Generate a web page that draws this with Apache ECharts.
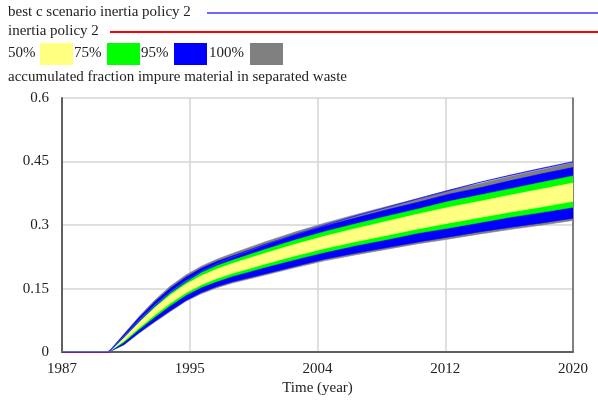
<!DOCTYPE html>
<html>
<head>
    <meta charset="utf-8">
    <title>accumulated fraction impure material in separated waste</title>
    <script src="https://cdn.jsdelivr.net/npm/echarts@6/dist/echarts.min.js"></script>
    <style>
        body { margin: 0; background: #fff; }
        #main { width: 598px; height: 401px; }
    </style>
</head>
<body>
    <div id="main"></div>
    <script type="text/javascript">
        // time axis (year)
        var years = [1987, 1988, 1989, 1990, 1991, 1992, 1993, 1994, 1995, 1996, 1997, 1998,
            2000, 2002, 2004, 2006, 2008, 2010, 2012, 2014, 2016, 2018, 2020];

        // sensitivity envelope
        var p100Hi = [0, 0, 0, 0, 0.043, 0.085, 0.123, 0.156, 0.182, 0.203, 0.219, 0.233,
            0.259, 0.283, 0.305, 0.325, 0.344, 0.363, 0.382, 0.398, 0.415, 0.431, 0.447];
        var p95Hi = [0, 0, 0, 0, 0.041, 0.082, 0.119, 0.151, 0.177, 0.198, 0.214, 0.227,
            0.253, 0.276, 0.298, 0.317, 0.336, 0.354, 0.373, 0.388, 0.405, 0.421, 0.436];
        var p75Hi = [0, 0, 0, 0, 0.037, 0.076, 0.111, 0.142, 0.168, 0.188, 0.204, 0.217,
            0.241, 0.264, 0.285, 0.303, 0.321, 0.338, 0.356, 0.371, 0.386, 0.401, 0.416];
        var p50Hi = [0, 0, 0, 0, 0.034, 0.071, 0.105, 0.135, 0.160, 0.180, 0.196, 0.209,
            0.232, 0.254, 0.274, 0.292, 0.309, 0.326, 0.342, 0.356, 0.371, 0.385, 0.399];
        var p50Lo = [0, 0, 0, 0, 0.026, 0.058, 0.088, 0.116, 0.140, 0.159, 0.174, 0.186,
            0.207, 0.227, 0.245, 0.261, 0.276, 0.291, 0.305, 0.318, 0.331, 0.343, 0.356];
        var p75Lo = [0, 0, 0, 0, 0.023, 0.054, 0.083, 0.110, 0.134, 0.153, 0.167, 0.179,
            0.199, 0.218, 0.236, 0.252, 0.266, 0.281, 0.293, 0.306, 0.319, 0.330, 0.342];
        var p95Lo = [0, 0, 0, 0, 0.018, 0.047, 0.073, 0.098, 0.122, 0.141, 0.155, 0.166,
            0.184, 0.202, 0.220, 0.234, 0.247, 0.260, 0.272, 0.284, 0.295, 0.305, 0.316];
        var p100Lo = [0, 0, 0, 0, 0.017, 0.045, 0.071, 0.096, 0.120, 0.138, 0.152, 0.163,
            0.181, 0.199, 0.216, 0.230, 0.243, 0.256, 0.267, 0.279, 0.290, 0.300, 0.311];

        // single runs
        var bestC = [0, 0, 0, 0, 0.036, 0.074, 0.109, 0.141, 0.166, 0.190, 0.208, 0.224,
            0.252, 0.277, 0.300, 0.322, 0.342, 0.362, 0.382, 0.401, 0.418, 0.434, 0.449];
        var inertia = [0, 0, 0, 0, 0.030, 0.064, 0.096, 0.125, 0.150, 0.170, 0.185, 0.197,
            0.220, 0.240, 0.259, 0.276, 0.292, 0.308, 0.323, 0.337, 0.351, 0.364, 0.377];

        var yTicks = [0, 0.15, 0.3, 0.45, 0.6];

        var FONT = 'Liberation Serif';
        var TXT = '#222';
        var LEG = '15px "' + FONT + '"';

        function pairs(vals) {
            return years.map(function (y, i) { return [y, vals[i]]; });
        }

        // bands drawn back to front: [upper, lower, colour]
        var bands = [
            [p100Hi, p100Lo, '#808080'],
            [p95Hi, p95Lo, '#0000ff'],
            [p75Hi, p75Lo, '#00ff00'],
            [p50Hi, p50Lo, '#ffff80']
        ];

        function renderBand(params, api) {
            var b = bands[params.dataIndex];
            var pts = [];
            for (var i = 0; i < years.length; i++) pts.push(api.coord([years[i], b[0][i]]));
            for (var j = years.length - 1; j >= 0; j--) pts.push(api.coord([years[j], b[1][j]]));
            return {
                type: 'polygon',
                shape: { points: pts },
                style: { fill: b[2], stroke: b[2], lineWidth: 0.6 }
            };
        }

        var myChart = echarts.init(document.getElementById('main'));

        var option = {
            animation: false,
            backgroundColor: '#fff',
            grid: { left: 62, right: 25, top: 98, bottom: 46 },
            xAxis: {
                type: 'value',
                min: 1987,
                max: 2020,
                interval: 8.25,
                name: 'Time (year)',
                nameLocation: 'middle',
                nameGap: 28,
                nameTextStyle: { fontFamily: FONT, fontSize: 15, color: TXT },
                axisLine: { lineStyle: { color: '#606060', width: 2 } },
                axisTick: { show: false },
                axisLabel: {
                    fontFamily: FONT, fontSize: 15, color: TXT, margin: 9,
                    formatter: function (v) { return String(Math.round(v)); }
                },
                splitLine: { lineStyle: { color: '#d4d4d4', width: 1.5 } }
            },
            yAxis: [{
                type: 'value',
                min: yTicks[0],
                max: yTicks[yTicks.length - 1],
                interval: yTicks[1] - yTicks[0],
                axisLine: { show: true, lineStyle: { color: '#606060', width: 2 } },
                axisTick: { show: false },
                axisLabel: { fontFamily: FONT, fontSize: 15, color: TXT, margin: 13 },
                splitLine: { lineStyle: { color: '#d4d4d4', width: 1.5 } }
            }, {
                type: 'value',
                position: 'right',
                min: 0,
                max: 0.6,
                axisLine: { show: true, lineStyle: { color: '#606060', width: 1.5 } },
                axisTick: { show: false },
                axisLabel: { show: false },
                splitLine: { show: false }
            }],
            graphic: [
                { type: 'text', left: 8, top: 5, style: { text: 'best c scenario inertia policy 2', font: LEG, fill: TXT } },
                { type: 'line', shape: { x1: 207, y1: 13, x2: 598, y2: 13 }, style: { stroke: '#3838ff', lineWidth: 1.5 } },
                { type: 'text', left: 8, top: 24, style: { text: 'inertia policy 2', font: LEG, fill: TXT } },
                { type: 'line', shape: { x1: 110, y1: 32, x2: 598, y2: 32 }, style: { stroke: '#ff0000', lineWidth: 2 } },
                { type: 'text', left: 8, top: 46, style: { text: '50%', font: LEG, fill: TXT } },
                { type: 'rect', shape: { x: 40, y: 43, width: 33, height: 22 }, style: { fill: '#ffff80' } },
                { type: 'text', left: 74, top: 46, style: { text: '75%', font: LEG, fill: TXT } },
                { type: 'rect', shape: { x: 107, y: 43, width: 33, height: 22 }, style: { fill: '#00ff00' } },
                { type: 'text', left: 141, top: 46, style: { text: '95%', font: LEG, fill: TXT } },
                { type: 'rect', shape: { x: 174, y: 43, width: 33, height: 22 }, style: { fill: '#0000ff' } },
                { type: 'text', left: 209, top: 46, style: { text: '100%', font: LEG, fill: TXT } },
                { type: 'rect', shape: { x: 250, y: 43, width: 33, height: 22 }, style: { fill: '#808080' } },
                { type: 'text', left: 8, top: 70, style: { text: 'accumulated fraction impure material in separated waste', font: LEG, fill: TXT } }
            ],
            series: [{
                name: 'inertia policy 2',
                type: 'line',
                z: 1,
                data: pairs(inertia),
                showSymbol: false,
                lineStyle: { color: '#ff0000', width: 2 }
            }, {
                name: 'sensitivity',
                type: 'custom',
                z: 2,
                renderItem: renderBand,
                data: bands.map(function (b, i) { return [years[0], i]; }),
                encode: { x: 0 },
                clip: true
            }, {
                name: 'best c scenario inertia policy 2',
                type: 'line',
                z: 3,
                data: pairs(bestC),
                showSymbol: false,
                lineStyle: { color: '#2a2aff', width: 1.2 }
            }]
        };

        myChart.setOption(option);
    </script>
</body>
</html>
